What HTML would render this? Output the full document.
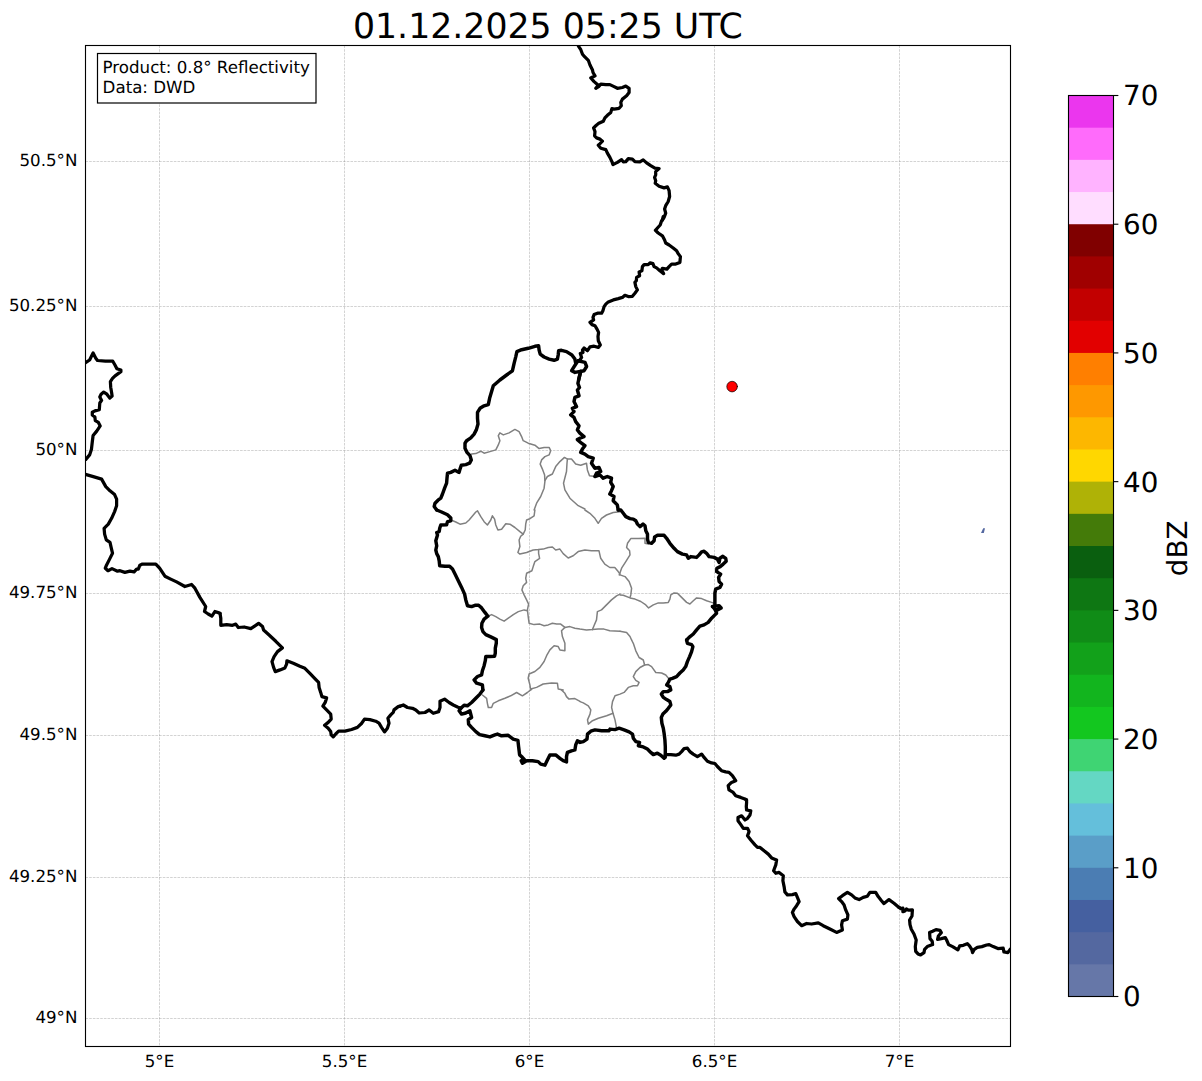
<!DOCTYPE html>
<html><head><meta charset="utf-8"><title>Radar</title>
<style>html,body{margin:0;padding:0;background:#fff}svg{display:block}text{font-family:"DejaVu Sans","Liberation Sans",sans-serif;fill:#000;text-rendering:geometricPrecision}</style></head><body>
<svg width="1202" height="1081" viewBox="0 0 1202 1081">
<rect width="1202" height="1081" fill="#fff"/>
<defs><clipPath id="ax"><rect x="85.5" y="45.5" width="925.0" height="1001.0"/></clipPath></defs>
<g stroke="#808080" stroke-opacity="0.5" stroke-width="0.69" stroke-dasharray="2.57,1.11" fill="none">
<line x1="159.5" y1="45.5" x2="159.5" y2="1046.5"/>
<line x1="344.5" y1="45.5" x2="344.5" y2="1046.5"/>
<line x1="529.5" y1="45.5" x2="529.5" y2="1046.5"/>
<line x1="714.5" y1="45.5" x2="714.5" y2="1046.5"/>
<line x1="899.5" y1="45.5" x2="899.5" y2="1046.5"/>
<line x1="85.5" y1="161.5" x2="1010.5" y2="161.5"/>
<line x1="85.5" y1="306.5" x2="1010.5" y2="306.5"/>
<line x1="85.5" y1="450.5" x2="1010.5" y2="450.5"/>
<line x1="85.5" y1="593.5" x2="1010.5" y2="593.5"/>
<line x1="85.5" y1="735.5" x2="1010.5" y2="735.5"/>
<line x1="85.5" y1="877.5" x2="1010.5" y2="877.5"/>
<line x1="85.5" y1="1018.5" x2="1010.5" y2="1018.5"/>
</g>
<g clip-path="url(#ax)" fill="none" stroke-linejoin="round" stroke-linecap="round">
<g stroke="#808080" stroke-width="1.5">
<path d="M471.6,454.1 L475.8,453.6 L480.8,451.2 L484.1,453.2 L489.9,451.6 L495.8,449.9 L498.3,444.9 L499.9,440.7 L498.3,435.7 L499.9,432.9 L503.3,434.9 L509.1,432.9 L514.9,429.4 L519.1,431.6 L521.6,436.6 L523.2,440.7 L528.2,443.2 L534.9,445.2 L539.1,448.6 L544.1,447.4 L549.1,447.4 L550.7,450.7 L549.1,454.9 L544.9,456.6 L541.6,459.9 L540.2,464.1 L542.4,469.1 L544.6,474.9 L544.9,481.5 L544.1,488.2 L540.7,496.5 L536.6,503.2 L534.1,510.0"/>
<path d="M544.9,480.7 L547.4,476.5 L552.4,474.0 L555.7,466.6 L559.9,461.6 L564.5,457.4 L567.4,459.1 L567.0,463.2 L566.5,471.5 L563.5,483.2 L564.9,489.9 L569.9,498.2 L578.2,505.7 L584.9,509.0"/>
<path d="M567.4,459.1 L571.5,459.1 L575.7,464.1 L580.7,465.2 L586.5,463.2 L587.4,469.9 L589.5,475.7 L594.9,476.5"/>
<path d="M451.6,520.3 L455.8,522.0 L460.0,524.2 L465.8,523.0 L469.1,520.0 L473.3,515.0 L475.8,512.0 L477.5,510.8 L480.8,516.7 L484.1,521.7 L487.4,525.0 L490.8,520.0 L492.4,515.8 L494.6,519.2 L495.8,525.0 L497.9,530.0 L501.6,529.2 L505.8,523.7 L509.9,524.2 L514.9,527.5 L519.9,531.6 L523.2,534.1 L525.2,530.0 L525.7,524.2 L526.6,520.0 L529.9,518.7 L534.1,515.8 L534.9,510.0"/>
<path d="M523.2,534.1 L520.7,536.3 L519.1,540.0 L519.9,546.6 L517.9,552.5 L519.9,554.1 L526.6,552.5 L533.2,550.0 L538.6,549.6 L543.2,549.1 L548.2,547.5 L552.4,547.0 L555.7,550.0 L559.9,549.1 L563.2,553.6 L568.2,558.0 L573.2,555.8 L578.2,551.6 L584.9,550.0 L591.5,550.8 L599.0,550.8 L600.7,558.3 L604.8,564.1 L609.8,567.5 L614.8,567.5 L618.2,571.6 L620.0,574.1"/>
<path d="M538.6,549.6 L538.6,553.3 L539.6,558.3 L534.9,561.6 L533.2,566.6 L531.9,570.8 L526.6,573.3 L525.7,578.3 L526.6,582.4 L523.2,585.8 L521.9,589.9 L524.1,594.9 L526.6,599.9 L528.6,604.1 L527.4,609.9 L528.2,616.6 L529.1,623.2 L534.1,624.6 L539.9,624.1 L544.1,625.7 L548.2,624.9 L552.4,623.2 L556.6,624.1 L560.7,624.1 L564.9,627.4 L569.9,626.6 L574.9,628.2 L579.9,629.1 L586.5,629.9 L592.4,629.6 L598.2,629.1 L604.0,629.1 L609.8,630.7 L620.0,631.2"/>
<path d="M592.4,629.6 L594.0,625.7 L596.5,619.9 L597.4,611.6 L601.5,609.9 L606.5,604.9 L611.5,599.9 L616.5,595.8 L620.0,594.1"/>
<path d="M564.9,627.4 L561.5,630.7 L562.4,636.6 L564.9,643.2 L564.9,650.7 L559.9,649.9 L558.2,646.6 L554.1,645.7 L549.9,649.9 L546.6,655.7 L544.1,661.5 L539.9,667.4 L534.9,671.5 L529.1,674.0 L528.2,678.2 L529.9,684.9 L530.7,690.0"/>
<path d="M530.7,689.0 L536.6,687.4 L543.2,684.0 L551.6,682.9 L557.4,683.2 L558.2,689.0 L563.2,690.0"/>
<path d="M487.9,616.2 L491.6,614.6 L495.8,616.6 L499.9,619.1 L504.1,621.2 L508.3,618.2 L513.3,614.6 L518.3,611.6 L524.1,609.9 L527.4,610.7"/>
<path d="M584.9,510.0 L589.9,513.3 L594.9,518.3 L598.2,523.3 L601.5,518.3 L606.5,515.0 L613.2,512.5 L620.0,511.7"/>
<path d="M620.0,574.9 L625.0,576.6 L629.1,581.6 L631.6,588.2 L630.8,594.9 L630.0,597.4"/>
<path d="M619.2,574.9 L621.6,568.2 L625.8,561.6 L630.0,554.9 L629.6,550.8 L626.6,547.4 L627.5,543.3 L630.8,538.6 L638.3,538.6 L645.0,538.3 L645.0,543.3 L648.3,544.1"/>
<path d="M620.0,594.9 L623.3,595.2 L630.0,597.9 L635.0,599.1 L640.8,601.5 L645.8,604.9 L648.6,607.9 L653.3,604.9 L658.3,602.9 L663.3,602.9 L668.3,602.4 L669.9,599.1 L670.8,594.9 L674.1,592.9 L677.4,593.2 L681.6,597.4 L686.6,602.4 L689.9,604.0 L693.3,600.7 L696.6,597.9 L701.6,598.6 L706.6,600.7 L711.6,602.4 L714.9,603.5"/>
<path d="M620.0,631.2 L626.6,632.4 L630.0,636.5 L631.6,640.0"/>
<path d="M631.6,640.0 L633.3,643.3 L635.8,650.8 L639.1,657.5 L643.3,660.0 L644.6,665.0 L648.3,664.6 L651.6,666.6 L655.8,672.5 L661.6,673.0 L665.8,675.0 L669.1,679.1"/>
<path d="M644.6,665.0 L640.0,667.5 L635.8,671.6 L633.3,676.6 L635.8,680.3 L639.1,682.4 L637.5,685.8 L633.3,685.8 L628.3,687.4 L624.1,692.4 L620.0,694.1 L615.0,695.8 L612.5,701.6 L611.6,707.4 L613.0,713.3 L615.0,719.9 L616.6,728.2"/>
<path d="M613.0,713.3 L606.6,715.8 L598.3,718.3 L592.5,720.7 L588.3,724.1 L587.5,719.9 L590.0,714.1 L590.8,709.9 L588.3,705.8 L583.3,702.9 L580.0,701.6"/>
<path d="M482.4,695.0 L486.6,698.3 L487.4,703.3 L488.3,707.5 L491.6,707.5 L493.3,703.3 L498.3,700.8 L504.9,698.3 L510.7,695.8 L516.6,692.5 L522.4,695.8 L527.4,692.5 L531.6,689.1"/>
<path d="M561.5,690.0 L564.9,693.3 L566.5,696.6 L569.0,699.1 L574.9,698.6 L580.0,701.3"/>
</g><g stroke="#000" stroke-width="3.25">
<path d="M577.5,44.2 L578.6,46.3 L580.8,49.7 L582.5,54.2 L584.6,56.7 L588.3,60.3 L590.0,65.0 L592.5,70.0 L593.0,72.5 L595.0,75.8 L590.8,78.0 L594.1,81.6 L598.3,85.3 L595.8,88.3 L598.6,86.6 L600.8,84.1 L605.8,84.6 L609.9,84.6 L614.1,86.6 L617.4,88.3 L622.4,87.5 L625.8,86.1 L629.1,88.3 L629.1,92.5 L626.6,95.8 L622.4,99.1 L620.8,102.4 L621.3,105.8 L619.1,108.3 L614.1,109.1 L611.9,108.6 L610.8,112.4 L607.4,115.3 L604.9,117.9 L603.3,121.3 L598.3,123.6 L595.8,125.8 L593.6,127.9 L595.0,131.6 L594.6,135.8 L596.6,137.9 L600.0,139.1 L602.4,141.2 L600.0,143.6 L598.3,145.2 L600.8,148.2 L605.8,149.6 L607.4,153.2 L609.9,157.4 L611.9,161.6 L612.9,164.6 L617.4,162.4 L621.6,159.6 L623.3,161.9 L625.8,161.6 L628.3,158.6 L632.4,159.1 L634.9,161.6 L639.9,161.9 L643.2,159.9 L646.6,162.9 L650.7,165.7 L654.9,168.2 L659.1,168.6 L655.7,171.6 L655.7,174.9 L654.6,177.4 L655.7,180.7 L655.2,183.2 L659.1,186.2 L664.1,187.9 L667.4,186.9 L669.1,190.7 L669.6,196.5 L668.2,201.5 L665.7,205.7 L664.6,209.0 L665.7,213.2 L664.1,217.4 L662.4,220.0"/>
<path d="M663.2,216.7 L662.4,220.0 L661.6,220.8 L660.2,225.0 L657.9,227.5 L655.4,230.3 L658.2,233.0 L662.4,235.8 L664.6,240.0 L665.7,243.0 L669.1,245.0 L673.2,248.0 L676.6,250.8 L678.2,253.6 L680.4,256.6 L679.9,262.4 L675.7,264.1 L671.6,264.1 L669.1,266.6 L666.9,269.1 L662.4,268.3 L661.6,269.9 L663.6,273.6 L659.9,270.8 L656.6,267.9 L654.1,266.6 L652.9,263.6 L650.2,262.8 L648.2,264.6 L644.1,264.6 L642.4,266.6 L641.9,270.8 L639.1,271.9 L639.6,275.8 L636.6,277.4 L636.3,280.8 L634.9,282.4 L635.8,286.6 L637.4,289.9 L634.9,293.3 L632.4,296.3 L628.3,296.6 L624.9,295.3 L622.4,297.4 L618.3,298.6 L613.3,299.9 L608.3,301.9 L605.8,304.1 L604.1,306.6 L602.9,310.7 L601.6,313.2 L597.5,313.2 L594.1,314.6 L593.0,317.4 L593.6,319.9 L590.0,322.4 L592.0,324.6 L595.0,325.7 L597.0,329.1 L598.6,332.4 L598.0,336.6 L598.3,340.7 L600.3,344.9 L598.3,347.4 L594.1,346.2 L590.0,346.9 L587.5,350.7 L584.1,347.9 L582.5,349.9 L583.0,352.4 L580.3,353.5 L581.6,357.4 L580.0,359.9 L578.0,361.2"/>
<path d="M664.9,757.4 L665.8,754.6 L670.8,754.6 L675.8,755.2 L679.1,754.1 L681.6,751.6 L684.1,748.6 L687.4,748.2 L689.9,751.6 L693.2,754.1 L697.4,756.6 L701.6,754.1 L704.1,757.4 L707.4,761.2 L711.6,762.9 L714.9,763.5 L717.4,766.5 L721.5,770.7 L725.7,771.9 L729.0,772.4 L732.4,775.7 L735.7,780.7 L731.5,782.4 L728.2,785.7 L729.0,789.9 L733.2,792.4 L735.7,795.7 L740.7,797.4 L744.9,799.0 L746.5,800.0"/>
<path d="M400.0,706.3 L403.3,705.0 L407.5,707.5 L412.5,708.3 L415.8,710.0 L419.2,713.0 L425.0,712.5 L429.1,710.0 L433.3,713.3 L438.6,711.6 L440.0,707.5 L440.0,701.3 L444.6,699.1 L449.1,702.5 L453.3,705.0 L457.5,707.0 L460.8,708.3"/>
<path d="M220.0,613.3 L220.8,618.3 L220.8,625.3 L226.7,624.6 L232.5,625.3 L235.8,624.1 L238.3,627.5 L244.1,627.0 L250.8,628.6 L255.0,625.8 L258.6,623.3 L262.5,626.6 L263.6,630.0 L269.1,635.0 L275.8,641.3 L282.4,647.9 L277.5,651.6 L274.1,656.6 L272.0,661.6 L273.6,667.4 L275.3,671.6 L280.0,669.9 L284.9,667.9 L286.6,664.1 L286.9,660.8 L293.3,663.3 L299.9,666.3 L304.9,668.3 L309.9,673.3 L314.9,678.6 L318.6,682.4 L319.1,687.4 L320.7,692.4 L321.9,696.6 L326.6,697.9 L325.2,702.4 L322.9,706.2 L326.6,709.9 L330.7,714.1 L331.2,719.1 L328.2,722.4 L324.6,725.2 L328.2,728.2 L330.7,731.5 L331.2,734.9 L333.2,736.9 L335.7,734.0 L338.6,731.2 L344.9,731.2 L351.6,729.5 L357.4,727.4 L361.5,723.5 L364.5,719.1 L369.9,719.6 L375.7,721.2 L379.0,723.2 L381.5,727.4 L384.5,731.9 L387.4,728.2 L389.0,723.2 L387.9,718.2 L390.7,714.9 L393.2,712.4 L394.0,709.9 L398.2,706.6 L400.0,706.1"/>
<path d="M83.3,473.8 L93.3,476.6 L101.6,479.1 L105.8,486.6 L110.0,490.8 L114.6,494.6 L116.6,499.1 L116.6,505.8 L114.6,511.6 L111.6,518.3 L108.3,524.1 L104.1,528.3 L104.6,534.1 L106.3,539.9 L110.0,542.4 L111.3,548.2 L112.5,553.2 L109.6,559.1 L106.6,564.9 L105.3,568.2 L108.0,570.7 L112.0,568.6 L117.5,571.2 L120.0,570.7 L124.9,572.4 L129.9,571.2 L134.1,571.9 L136.6,569.1 L138.3,569.1 L139.9,565.2 L142.4,564.1 L149.9,564.1 L155.8,564.1 L159.6,568.2 L164.9,576.2 L170.7,579.1 L176.6,581.9 L184.9,586.5 L191.6,584.5 L194.9,588.2 L199.9,597.4 L205.7,606.5 L204.5,611.5 L208.2,614.0 L211.9,616.2 L214.9,611.5 L219.0,612.9 L220.0,613.4"/>
<path d="M82.6,365.2 L85.6,362.6 L89.6,360.0 L93.1,352.9 L95.8,358.2 L97.5,360.5 L105.4,361.2 L112.8,361.2 L115.1,365.2 L116.9,368.8 L120.9,370.0 L120.9,371.7 L115.1,375.8 L112.5,378.4 L110.4,381.6 L110.7,387.2 L111.6,392.5 L112.1,396.0 L109.8,398.1 L106.9,394.2 L103.7,392.1 L101.1,394.2 L99.8,396.9 L101.6,400.4 L99.8,403.0 L99.3,409.7 L94.9,410.9 L92.3,412.2 L92.3,415.0 L94.9,417.1 L95.3,420.6 L98.4,422.4 L100.2,425.9 L96.7,431.1 L93.1,435.5 L92.3,441.7 L91.4,449.6 L89.6,454.9 L85.6,459.6 L82.6,461.0"/>
<path d="M746.5,800.0 L746.6,802.5 L746.3,806.6 L746.6,810.0 L750.8,810.8 L750.0,815.0 L747.5,818.3 L745.0,820.0 L741.6,815.8 L738.0,817.5 L738.0,820.8 L740.8,824.6 L743.3,828.3 L747.5,828.3 L749.1,831.6 L747.5,835.8 L750.8,840.0 L755.0,844.9 L757.5,847.4 L760.0,847.4 L764.1,850.8 L768.3,854.1 L771.6,857.9 L776.6,859.9 L775.8,864.9 L773.6,870.8 L775.8,873.3 L779.1,872.4 L783.3,875.8 L782.9,880.7 L784.1,886.6 L784.9,891.9 L787.4,894.9 L792.4,894.6 L795.8,893.6 L797.4,897.4 L799.1,901.6 L796.6,905.7 L794.1,909.1 L792.4,912.4 L794.1,916.6 L797.4,921.5 L801.6,925.7 L806.6,923.5 L811.6,924.0 L818.3,922.9 L823.2,925.7 L829.9,929.0 L836.6,932.4 L842.4,929.9 L841.6,924.9 L842.4,920.7 L847.4,919.1 L847.9,914.9 L845.7,909.9 L844.1,904.9 L841.6,901.6 L838.6,898.6 L842.4,895.7 L847.4,892.4 L851.6,894.9 L854.9,897.9 L859.1,899.6 L863.2,897.4 L867.4,896.2 L869.9,892.4 L875.7,892.4 L878.2,896.6 L881.5,900.7 L884.0,903.6 L889.0,899.6 L894.0,903.2 L899.0,907.4"/>
<path d="M899.1,907.4 L900.7,908.6 L902.9,908.2 L902.9,911.7 L905.0,910.9 L906.4,909.0 L908.6,910.1 L912.4,909.8 L912.0,916.0 L909.6,920.0 L910.0,924.6 L911.3,929.3 L914.0,934.0 L916.2,940.0 L915.3,946.6 L915.7,951.3 L918.0,953.9 L920.6,954.9 L924.0,952.6 L924.6,949.3 L927.3,946.6 L932.6,944.6 L932.2,941.3 L930.0,938.6 L929.6,932.6 L932.6,931.3 L936.0,929.6 L940.0,930.4 L941.3,932.6 L938.4,936.0 L937.6,939.3 L941.3,938.6 L945.3,937.6 L946.6,940.0 L948.6,944.6 L952.6,946.6 L955.9,948.6 L957.9,949.9 L959.7,945.9 L963.3,945.3 L967.3,943.7 L969.5,945.9 L971.7,949.3 L972.6,952.6 L974.3,949.3 L977.3,947.3 L981.9,946.6 L986.6,945.0 L989.2,944.6 L993.2,946.6 L997.9,948.6 L1003.2,948.2 L1003.9,951.9 L1007.9,952.6 L1010.3,949.3 L1011.9,947.9"/>
</g><g stroke="#000" stroke-width="3.45">
<path d="M578.0,360.7 L585.0,362.4 L586.6,366.5 L584.1,370.7 L575.0,372.4 L571.6,370.7 L575.8,364.0 L578.0,360.7"/>
<path d="M580.8,371.5 L580.0,374.0 L578.6,380.0"/>
<path d="M575.7,363.3 L574.9,359.1 L571.9,355.0 L566.5,351.6 L561.5,350.3 L558.6,350.8 L558.2,355.0 L557.4,359.1 L554.1,360.3 L549.1,359.1 L544.1,357.0 L540.2,354.1 L539.1,350.0 L538.6,345.8 L534.9,346.3 L528.2,348.3 L521.6,349.7 L516.9,351.6 L515.8,356.6 L514.1,363.3 L512.4,370.8 L506.6,375.0 L499.9,380.0 L493.3,385.8 L491.6,391.6 L489.6,398.3 L488.3,404.6 L484.1,405.8 L480.0,408.3 L477.5,412.4 L477.5,418.3 L478.0,424.1 L476.3,429.9 L474.1,434.1 L470.8,437.9 L466.6,440.7 L465.0,443.2 L465.0,448.2 L467.0,452.4 L470.0,455.7 L471.3,459.9 L469.6,463.2 L465.8,464.6 L461.3,465.2 L460.0,469.1 L459.1,472.4 L455.0,470.2 L450.8,472.4 L447.5,473.2 L447.0,478.2 L446.6,483.2 L444.6,488.2 L442.5,494.0 L440.8,498.2 L438.0,500.2 L435.0,503.2 L434.2,506.5 L436.7,510.0"/>
<path d="M580.7,371.6 L579.0,378.3 L577.9,383.3 L579.5,387.5 L577.4,390.0 L579.0,395.8 L574.9,397.4 L574.0,401.6 L576.5,406.6 L572.4,408.3 L574.0,411.6 L570.7,414.9 L574.0,417.4 L575.7,421.6 L579.0,425.8 L577.4,429.9 L579.9,433.2 L584.0,436.6 L579.9,438.2 L577.4,439.6 L581.5,443.2 L584.9,445.7 L582.4,449.1 L580.7,452.4 L584.9,454.1 L588.2,456.6 L593.2,458.2 L591.5,463.2 L594.9,468.2 L599.0,467.4 L600.7,471.5 L596.5,473.2 L594.9,476.5 L599.9,474.9 L603.2,478.2 L607.3,476.5 L611.5,478.2 L610.7,482.4 L613.2,486.5 L611.5,490.7 L609.8,494.0 L614.0,496.5 L613.2,500.7 L617.3,504.9 L618.2,510.0"/>
<path d="M436.7,510.0 L441.6,512.0 L447.5,514.7 L450.8,518.0 L450.8,520.8 L447.5,521.7 L446.6,524.7 L440.8,525.0 L439.7,528.3 L439.2,531.6 L436.7,532.5 L437.5,535.0 L435.8,540.8 L436.7,545.8 L435.8,550.0 L436.7,553.6 L438.3,556.6 L439.2,560.8 L439.7,565.8 L445.0,566.3 L449.6,566.3 L452.5,569.1 L455.0,574.1 L458.3,580.8 L461.6,587.4 L464.6,594.1 L465.8,599.9 L467.5,605.8 L471.6,606.6 L475.0,605.3 L478.6,605.3 L481.6,607.9 L484.9,612.4 L487.9,616.2 L484.1,619.1 L481.9,623.2 L481.6,627.4 L482.9,631.6 L485.8,634.6 L490.8,636.9 L496.3,639.6 L496.3,643.2 L495.3,648.2 L495.3,653.2 L494.6,656.2 L489.9,656.5 L485.8,656.5 L485.3,660.7 L484.1,665.7 L482.4,670.7 L481.6,674.9 L477.5,676.5 L474.1,679.9 L476.6,683.2 L482.4,684.9 L482.9,690.0"/>
<path d="M618.2,510.0 L620.8,510.0 L623.3,513.3 L625.8,516.6 L630.0,518.6 L633.3,519.1 L635.8,520.8 L637.5,524.1 L640.0,526.6 L643.0,524.1 L645.0,525.8 L645.8,530.8 L647.5,534.1 L647.5,539.1 L648.3,542.4 L651.6,543.3 L654.1,540.8 L654.6,536.9 L657.5,535.3 L664.1,535.3 L666.6,538.3 L669.9,543.3 L674.1,548.3 L677.4,551.6 L682.4,554.1 L686.6,554.9 L688.3,558.3 L690.8,556.6 L696.6,557.4 L699.1,554.9 L701.6,551.9 L704.1,551.3 L706.6,553.3 L709.1,556.6 L714.1,557.4 L717.4,559.1 L719.1,562.4 L719.9,558.3 L722.9,556.3 L725.7,558.3 L726.2,561.2 L723.2,564.1 L720.2,566.6 L716.9,568.2 L716.6,571.6 L720.7,574.1 L718.6,577.4 L719.1,581.6 L721.6,584.1 L719.9,587.4 L715.7,589.1 L714.9,593.2 L714.9,599.9 L714.9,604.9"/>
<path d="M712.4,606.5 L719.1,605.7 L721.2,607.9 L717.4,609.9 L714.9,609.0 L712.4,606.5"/>
<path d="M714.9,609.0 L716.6,613.2 L714.9,614.9 L711.6,618.2 L708.2,622.4 L704.1,624.9 L699.9,626.2 L696.6,629.9 L693.3,634.0 L689.1,637.4 L686.6,640.0"/>
<path d="M686.6,640.0 L687.4,643.3 L691.6,644.6 L692.9,646.6 L691.6,651.6 L689.6,656.6 L687.4,661.6 L685.7,666.6 L683.2,670.0 L679.9,673.0 L676.6,676.6 L672.4,678.3 L669.9,679.1 L668.3,682.4 L666.6,684.9 L669.9,686.6 L670.8,689.9 L667.4,691.6 L663.3,691.6 L661.3,694.1 L663.3,697.4 L666.6,699.6 L669.9,701.6 L670.8,704.9 L668.3,708.3 L665.8,711.3 L662.9,714.1 L661.3,717.4 L661.9,723.2 L663.3,728.2 L664.1,733.2 L664.9,739.9 L665.3,746.6 L665.3,753.2 L664.9,757.4"/>
<path d="M580.0,742.4 L583.3,741.6 L587.0,739.1 L587.5,734.1 L590.8,731.2 L595.0,729.9 L601.6,730.7 L609.1,730.7 L610.0,729.1 L615.0,729.6 L619.1,728.2 L624.1,729.9 L629.1,731.9 L632.5,734.1 L633.3,738.2 L635.8,741.6 L639.6,742.4 L638.3,745.7 L643.3,746.9 L647.4,749.1 L650.8,752.4 L653.3,754.6 L657.4,753.2 L660.8,755.2 L664.1,758.2 L664.9,757.4"/>
<path d="M482.9,690.0 L479.9,694.1 L475.8,698.3 L471.6,702.5 L467.4,705.8 L464.1,705.3 L460.8,708.3"/>
<path d="M460.8,708.3 L459.1,710.8 L461.6,714.1 L465.8,713.0 L469.9,710.8 L471.6,717.5 L468.3,719.6 L468.6,724.1 L471.6,727.4 L475.8,731.6 L479.6,734.6 L484.9,735.8 L489.9,736.9 L494.9,734.9 L497.4,734.1 L501.6,735.8 L508.2,735.3 L513.2,739.1 L517.9,740.3 L518.6,746.6 L519.6,754.9 L522.4,757.4 L524.1,759.1 L521.2,760.7 L522.4,763.2 L526.6,760.7 L532.4,760.7 L538.2,761.6 L540.7,764.1 L544.9,765.2 L547.4,759.9 L549.9,754.9 L555.7,754.9 L559.9,758.3 L563.2,760.7 L566.5,761.9 L566.5,756.6 L567.4,752.4 L571.5,750.8 L574.9,749.9 L575.7,744.9 L577.4,740.8 L580.0,742.1"/>
</g>
<circle cx="732.1" cy="386.6" r="5.3" fill="#ff0000" stroke="#000" stroke-width="0.7"/>
<path d="M981,533 L983.8,533 L985,528.2 L983.2,528.2 Z" fill="#5468A0" stroke="none"/>
</g>
<rect x="85.5" y="45.5" width="925.0" height="1001.0" fill="none" stroke="#000" stroke-width="1.11"/>
<g font-size="16.67">
<text x="159.5" y="1067" text-anchor="middle">5°E</text>
<text x="344.5" y="1067" text-anchor="middle">5.5°E</text>
<text x="529.5" y="1067" text-anchor="middle">6°E</text>
<text x="714.5" y="1067" text-anchor="middle">6.5°E</text>
<text x="899.5" y="1067" text-anchor="middle">7°E</text>
<text x="77.4" y="166.40" text-anchor="end">50.5°N</text>
<text x="77.4" y="311.40" text-anchor="end">50.25°N</text>
<text x="77.4" y="455.40" text-anchor="end">50°N</text>
<text x="77.4" y="598.40" text-anchor="end">49.75°N</text>
<text x="77.4" y="740.40" text-anchor="end">49.5°N</text>
<text x="77.4" y="882.40" text-anchor="end">49.25°N</text>
<text x="77.4" y="1023.40" text-anchor="end">49°N</text>
</g>
<text x="547.8" y="37.7" font-size="34.72" text-anchor="middle">01.12.2025 05:25 UTC</text>
<rect x="97.5" y="53.5" width="218.5" height="49.5" fill="#fff" stroke="#000" stroke-width="1.2"/>
<text font-size="16.67"><tspan x="102.6" y="73">Product: 0.8° Reflectivity</tspan><tspan x="102.6" y="92.5">Data: DWD</tspan></text>
<rect x="1068.5" y="962.32" width="45.0" height="34.18" fill="#6677A8"/>
<rect x="1068.5" y="930.14" width="45.0" height="34.18" fill="#5468A0"/>
<rect x="1068.5" y="897.96" width="45.0" height="34.18" fill="#4560A0"/>
<rect x="1068.5" y="865.79" width="45.0" height="34.18" fill="#4B7DB3"/>
<rect x="1068.5" y="833.61" width="45.0" height="34.18" fill="#5A9EC8"/>
<rect x="1068.5" y="801.43" width="45.0" height="34.18" fill="#64BFDB"/>
<rect x="1068.5" y="769.25" width="45.0" height="34.18" fill="#64D7C3"/>
<rect x="1068.5" y="737.07" width="45.0" height="34.18" fill="#3FD473"/>
<rect x="1068.5" y="704.89" width="45.0" height="34.18" fill="#13C71F"/>
<rect x="1068.5" y="672.71" width="45.0" height="34.18" fill="#12B51E"/>
<rect x="1068.5" y="640.54" width="45.0" height="34.18" fill="#12A11A"/>
<rect x="1068.5" y="608.36" width="45.0" height="34.18" fill="#108C17"/>
<rect x="1068.5" y="576.18" width="45.0" height="34.18" fill="#0E7713"/>
<rect x="1068.5" y="544.00" width="45.0" height="34.18" fill="#0A5F0F"/>
<rect x="1068.5" y="511.82" width="45.0" height="34.18" fill="#447B09"/>
<rect x="1068.5" y="479.64" width="45.0" height="34.18" fill="#AFB206"/>
<rect x="1068.5" y="447.46" width="45.0" height="34.18" fill="#FFD700"/>
<rect x="1068.5" y="415.29" width="45.0" height="34.18" fill="#FDB700"/>
<rect x="1068.5" y="383.11" width="45.0" height="34.18" fill="#FE9800"/>
<rect x="1068.5" y="350.93" width="45.0" height="34.18" fill="#FF7F00"/>
<rect x="1068.5" y="318.75" width="45.0" height="34.18" fill="#E20000"/>
<rect x="1068.5" y="286.57" width="45.0" height="34.18" fill="#C20000"/>
<rect x="1068.5" y="254.39" width="45.0" height="34.18" fill="#A00000"/>
<rect x="1068.5" y="222.21" width="45.0" height="34.18" fill="#800000"/>
<rect x="1068.5" y="190.04" width="45.0" height="34.18" fill="#FFDDFF"/>
<rect x="1068.5" y="157.86" width="45.0" height="34.18" fill="#FFB3FF"/>
<rect x="1068.5" y="125.68" width="45.0" height="34.18" fill="#FF6BFB"/>
<rect x="1068.5" y="95.50" width="45.0" height="32.18" fill="#EB36EE"/>
<rect x="1068.5" y="95.5" width="45.0" height="901.0" fill="none" stroke="#000" stroke-width="1.11"/>
<g font-size="27.78">
<line x1="1113.5" y1="996.50" x2="1118.36" y2="996.50" stroke="#000" stroke-width="1.11"/>
<text x="1123" y="1006.40">0</text>
<line x1="1113.5" y1="867.79" x2="1118.36" y2="867.79" stroke="#000" stroke-width="1.11"/>
<text x="1123" y="877.69">10</text>
<line x1="1113.5" y1="739.07" x2="1118.36" y2="739.07" stroke="#000" stroke-width="1.11"/>
<text x="1123" y="748.97">20</text>
<line x1="1113.5" y1="610.36" x2="1118.36" y2="610.36" stroke="#000" stroke-width="1.11"/>
<text x="1123" y="620.26">30</text>
<line x1="1113.5" y1="481.64" x2="1118.36" y2="481.64" stroke="#000" stroke-width="1.11"/>
<text x="1123" y="491.54">40</text>
<line x1="1113.5" y1="352.93" x2="1118.36" y2="352.93" stroke="#000" stroke-width="1.11"/>
<text x="1123" y="362.83">50</text>
<line x1="1113.5" y1="224.21" x2="1118.36" y2="224.21" stroke="#000" stroke-width="1.11"/>
<text x="1123" y="234.11">60</text>
<line x1="1113.5" y1="95.50" x2="1118.36" y2="95.50" stroke="#000" stroke-width="1.11"/>
<text x="1123" y="105.40">70</text>
</g>
<text font-size="27.78" text-anchor="middle" transform="translate(1187,548.3) rotate(-90)">dBZ</text>
</svg></body></html>
